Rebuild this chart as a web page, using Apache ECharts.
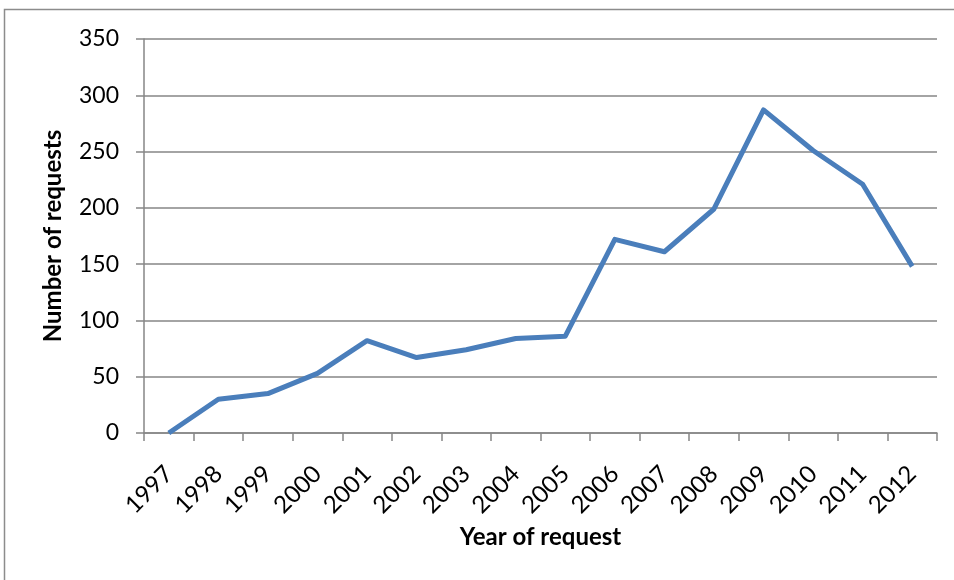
<!DOCTYPE html>
<html>
<head>
<meta charset="utf-8">
<script src="https://cdn.jsdelivr.net/npm/echarts@6/dist/echarts.min.js"></script>
<style>
  html, body { margin: 0; padding: 0; background: #ffffff; }
  #chart { width: 954px; height: 580px; }
</style>
</head>
<body>
<div id="chart"></div>
<script>
// Requests per year, 1997-2012
const years = ['1997', '1998', '1999', '2000', '2001', '2002', '2003', '2004',
               '2005', '2006', '2007', '2008', '2009', '2010', '2011', '2012'];
const requests = [0, 30, 35, 53, 82, 67, 74, 84, 86, 172, 161, 199, 287, 251, 221, 148];
const yTicks = [0, 50, 100, 150, 200, 250, 300, 350];

const FONT = 'Lato, "Open Sans", sans-serif';
const GRID_COLOR = '#868686';

const chart = echarts.init(document.getElementById('chart'));
chart.setOption({
  animation: false,
  backgroundColor: '#ffffff',
  graphic: [{
    type: 'rect',
    shape: { x: 4.5, y: 9.5, width: 980, height: 600 },
    style: { fill: 'none', stroke: '#8c8c8c', lineWidth: 1.5 },
    silent: true,
    z: -1
  }],
  grid: { left: 144, right: 17, top: 39, bottom: 147, containLabel: false },
  xAxis: {
    type: 'category',
    data: years,
    boundaryGap: true,
    name: 'Year of request',
    nameLocation: 'middle',
    nameGap: 88,
    nameTextStyle: { fontFamily: FONT, fontWeight: 'bold', fontSize: 24, color: '#000' },
    axisLine: { lineStyle: { color: GRID_COLOR, width: 1.5 } },
    axisTick: { show: true, alignWithLabel: false, length: 8, lineStyle: { color: GRID_COLOR, width: 1.5 } },
    axisLabel: { rotate: 45, margin: 37, fontFamily: FONT, fontSize: 24, color: '#000', interval: 0 }
  },
  yAxis: {
    type: 'value',
    min: yTicks[0],
    max: yTicks[yTicks.length - 1],
    interval: yTicks[1] - yTicks[0],
    name: 'Number of requests',
    nameLocation: 'middle',
    nameGap: 79,
    nameTextStyle: { fontFamily: FONT, fontWeight: 'bold', fontSize: 24, color: '#000' },
    axisLine: { show: true, lineStyle: { color: GRID_COLOR, width: 1.5 } },
    axisTick: { show: true, length: 8, lineStyle: { color: GRID_COLOR, width: 1.5 } },
    axisLabel: { margin: 25, fontFamily: FONT, fontSize: 23, color: '#000' },
    splitLine: { show: true, lineStyle: { color: GRID_COLOR, width: 1.5 } }
  },
  series: [{
    type: 'line',
    data: requests,
    symbol: 'none',
    lineStyle: { color: '#4a7ebb', width: 5, join: 'round' },
    itemStyle: { color: '#4a7ebb' }
  }]
});
</script>
</body>
</html>
